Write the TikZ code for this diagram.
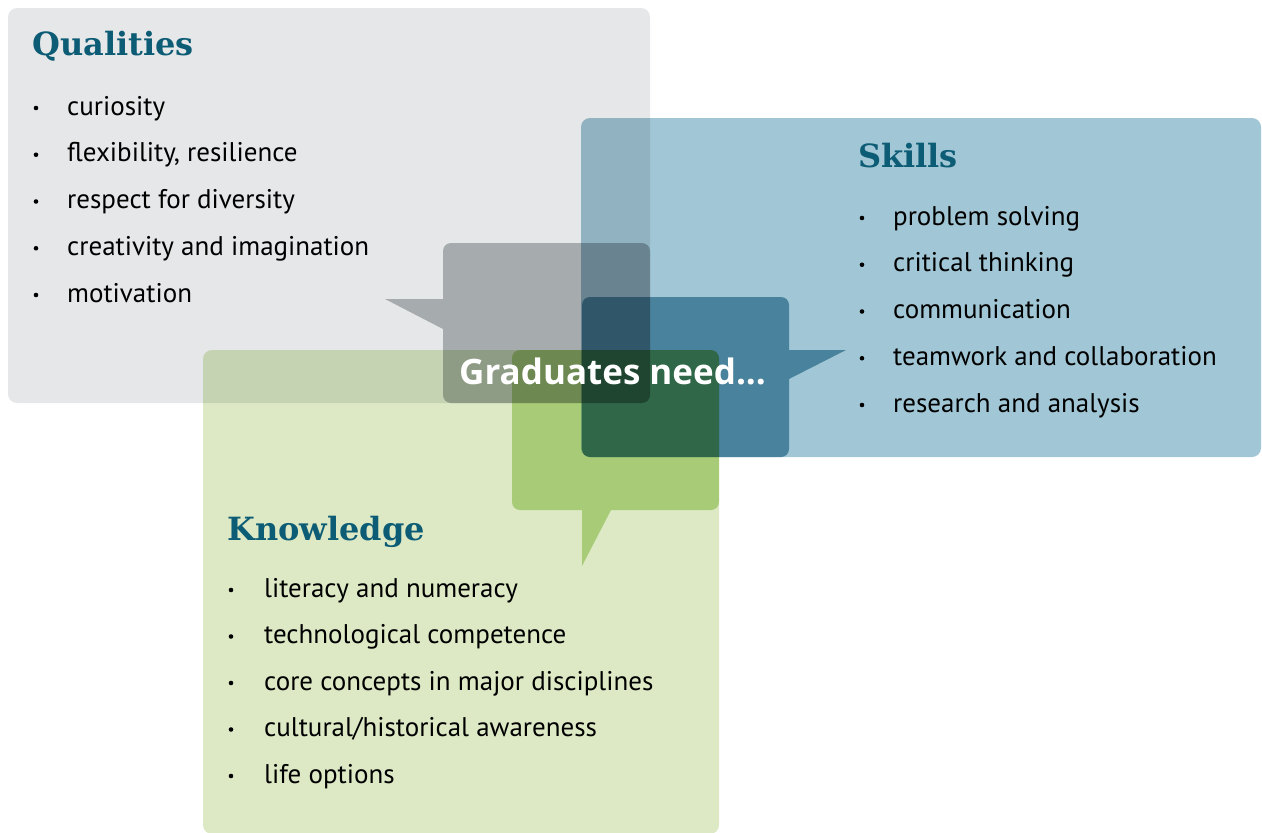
\documentclass[tikz,border=0pt]{standalone}
\usepackage{fontspec}
\setmainfont{PT Sans}
\newfontfamily\headfont{DejaVu Serif}
\newfontfamily\capfont{Open Sans}
\usetikzlibrary{positioning}

\definecolor{qualgray}{HTML}{E6E7E8}
\definecolor{skillblue}{HTML}{A1C6D5}
\definecolor{knowgreen}{HTML}{DCE9C4}
\definecolor{bubblegray}{HTML}{B9BDBF}
\definecolor{bubbleblue}{HTML}{75A8BB}
\definecolor{bubblegreen}{HTML}{C3DF9C}
\definecolor{headteal}{HTML}{0D5C75}

\tikzset{
  panel/.style={rounded corners=9pt},
  bubble/.style={rounded corners=8pt},
  heading/.style={anchor=base west, inner sep=0pt, text=headteal,
    font=\headfont\bfseries\fontsize{32}{32}\selectfont},
  item/.style={anchor=base west, inner sep=0pt,
    font=\fontsize{27}{27}\selectfont},
  dot/.style={fill=black},
}

\begin{document}
\begin{tikzpicture}[x=1pt, y=-1pt]
    \useasboundingbox (0,0) rectangle (1262,833);

    % 1. Panels and bubbles, multiplied onto each other
    \begin{scope}[blend group=multiply]
        \fill[panel, qualgray] (8,8) rectangle (650,403);
        \fill[panel, skillblue] (581,118) rectangle (1261,457);
        \fill[panel, knowgreen] (203,350) rectangle (719,834);

        % bubble body plus its tail in one fill
        \fill[bubble, bubblegray] (443,243) rectangle (650,403)
            [sharp corners] (443,299) -- (385,299) -- (443,329) -- cycle;
        \fill[bubble, bubbleblue] (582,297) rectangle (789,457)
            [sharp corners] (789,350) -- (846,350) -- (789,379) -- cycle;
        \fill[bubble, bubblegreen] (512,350) rectangle (719,510)
            [sharp corners] (582,510) -- (582,566) -- (611,510) -- cycle;
    \end{scope}

    % 2. Headings
    \node[heading] (qualtitle) at (32,55) {Qualities};
    \node[heading] (skilltitle) at (858,167) {Skills};
    \node[heading] (knowtitle) at (227,540) {Knowledge};

    % 3. Bullet lists
    \foreach \txt [count=\i] in {curiosity, {flexibility, resilience},
        respect for diversity, creativity and imagination, motivation} {
        \node[item] (qual\i) at (67,{115+46.75*(\i-1)}) {\txt};
        \fill[dot] ([xshift=-31pt, yshift=7pt]qual\i.base west) circle (2.3pt);
    }
    \foreach \txt [count=\i] in {problem solving, critical thinking,
        communication, teamwork and collaboration, research and analysis} {
        \node[item] (skill\i) at (893,{225+46.75*(\i-1)}) {\txt};
        \fill[dot] ([xshift=-31pt, yshift=7pt]skill\i.base west) circle (2.3pt);
    }
    \foreach \txt [count=\i] in {literacy and numeracy, technological competence,
        core concepts in major disciplines, cultural/historical awareness,
        life options} {
        \node[item] (know\i) at (264,{597+46.5*(\i-1)}) {\txt};
        \fill[dot] ([xshift=-33pt, yshift=7pt]know\i.base west) circle (2.3pt);
    }

    % 4. Centre caption
    \node[anchor=base west, inner sep=0pt, text=white,
        font=\capfont\bfseries\fontsize{35}{35}\selectfont] (need) at (459,384)
        {Graduates need...};

\end{tikzpicture}
\end{document}
